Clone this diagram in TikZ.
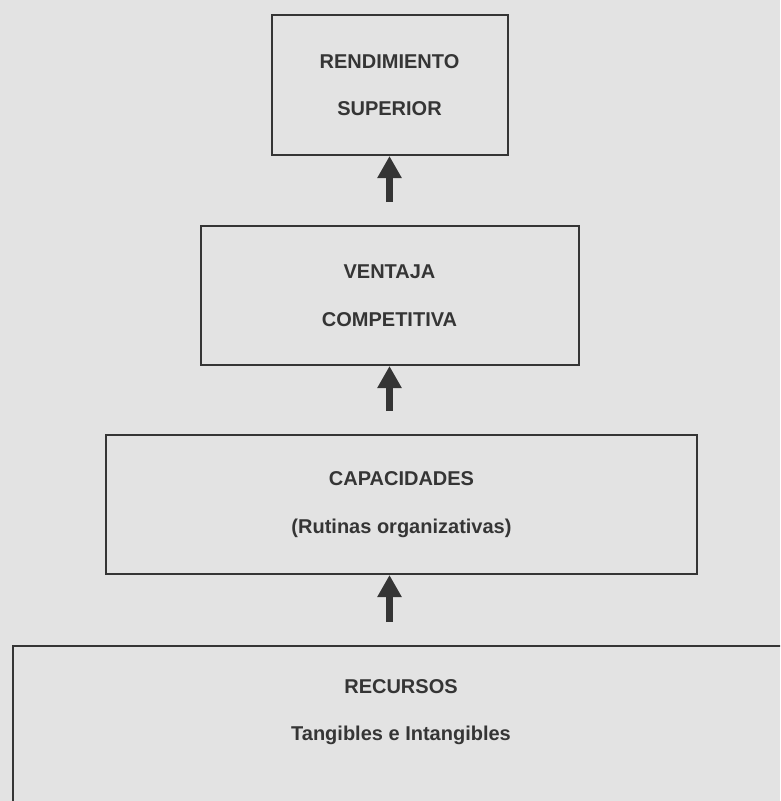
\documentclass[tikz,border=0pt]{standalone}
\usepackage{fontspec}
\setmainfont{Liberation Sans}
\usetikzlibrary{arrows.meta}
\definecolor{paper}{HTML}{E3E3E3}
\definecolor{ink}{HTML}{353535}
\begin{document}
\begin{tikzpicture}[x=1pt,y=-1pt,
  labelfont/.style={text=ink, align=center,
    font=\fontsize{20}{47.5}\selectfont\bfseries},
  box/.style={draw=ink, line width=2pt, inner sep=0pt, labelfont},
  up/.style={draw=ink, line width=7pt,
    -{Triangle[length=22pt,width=23pt]}, shorten <=23pt}]
  % page
  \fill[paper] (0,0) rectangle (780,801);
  \useasboundingbox (0,0) rectangle (780,801);
  \clip (0,0) rectangle (780,801);

  % stacked levels, top to bottom
  \node[box, minimum width=236pt, minimum height=140pt] (perf) at (389.5,85)
    {RENDIMIENTO\\SUPERIOR};
  \node[box, minimum width=378pt, minimum height=139pt] (adv) at (389.5,295.5)
    {VENTAJA\\COMPETITIVA};
  \node[box, minimum width=591pt, minimum height=139pt] (cap) at (401.5,504.5)
    {CAPACIDADES\\(Rutinas organizativas)};
  % resources box runs past the right and bottom edges
  \node[box, anchor=north west, minimum width=778pt, minimum height=300pt]
    (res) at (12,645) {};
  \node[labelfont] (restext) at (401,712) {RECURSOS\\Tangibles e Intangibles};

  % upward arrows
  \draw[up] (adv.north) -- (perf.south);
  \draw[up] (adv.south |- cap.north) -- (adv.south);
  \draw[up] (adv.south |- res.north) -- (adv.south |- cap.south);
\end{tikzpicture}
\end{document}
